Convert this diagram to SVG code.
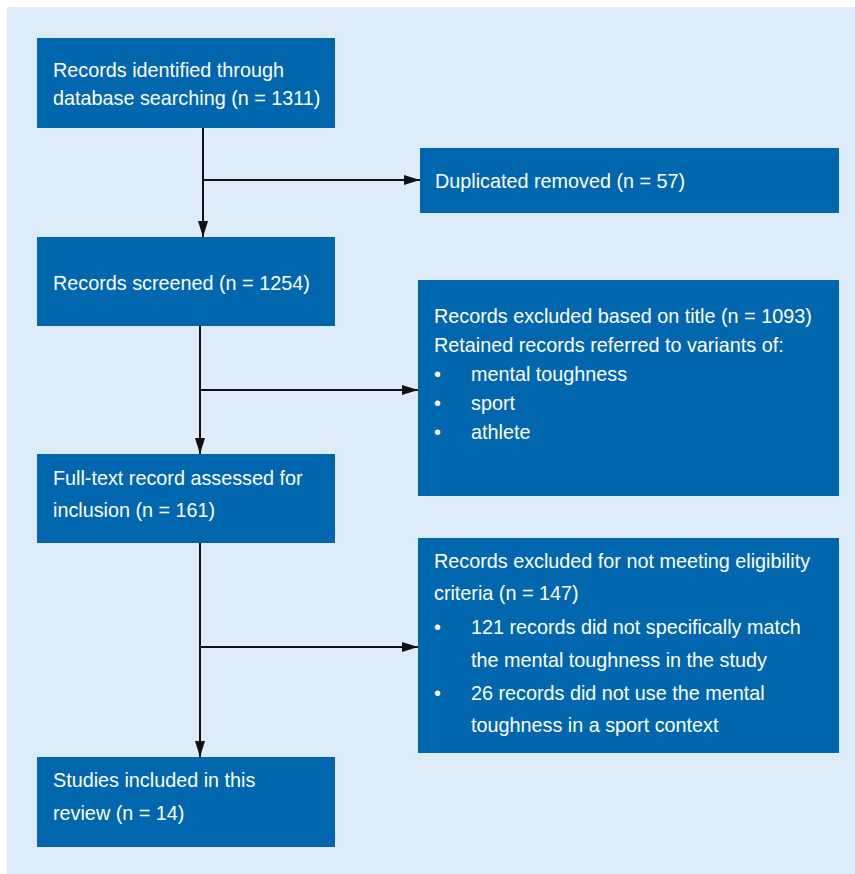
<svg xmlns="http://www.w3.org/2000/svg" width="855" height="874" viewBox="0 0 855 874">
<defs>
<marker id="arr" viewBox="0 0 16 10" refX="16" refY="5" markerWidth="16" markerHeight="10" markerUnits="userSpaceOnUse" orient="auto">
<path d="M0,0 L16,5 L0,10 Z" fill="#111"/>
</marker>
<style>
.box{fill:#0066ae}
.t{font-family:"Liberation Sans",Arial,sans-serif;font-size:19.8px;fill:#ffffff}
.c{stroke:#111;stroke-width:2;fill:none}
</style>
</defs>
<rect x="7" y="7" width="848" height="867" fill="#deebf8"/>
<g id="connectors">
<line class="c" x1="203" y1="128" x2="203" y2="237" marker-end="url(#arr)"/>
<line class="c" x1="203" y1="180" x2="420" y2="180" marker-end="url(#arr)"/>
<line class="c" x1="200" y1="326" x2="200" y2="454" marker-end="url(#arr)"/>
<line class="c" x1="200" y1="390" x2="418" y2="390" marker-end="url(#arr)"/>
<line class="c" x1="200" y1="543" x2="200" y2="757" marker-end="url(#arr)"/>
<line class="c" x1="200" y1="647" x2="418" y2="647" marker-end="url(#arr)"/>
</g>
<g id="n1"><rect class="box" x="37" y="38" width="298" height="90"/>
<text class="t" x="53" y="77">Records identified through</text>
<text class="t" x="53" y="105">database searching (n = 1311)</text></g>
<g id="n2"><rect class="box" x="420" y="148" width="419" height="65"/>
<text class="t" x="435" y="188">Duplicated removed (n = 57)</text></g>
<g id="n3"><rect class="box" x="37" y="237" width="298" height="89"/>
<text class="t" x="53" y="290">Records screened (n = 1254)</text></g>
<g id="n4"><rect class="box" x="418" y="280" width="421" height="216"/>
<text class="t" x="434" y="323">Records excluded based on title (n = 1093)</text>
<text class="t" x="434" y="352">Retained records referred to variants of:</text>
<text class="t" x="434" y="381">•</text><text class="t" x="471" y="381">mental toughness</text>
<text class="t" x="434" y="410">•</text><text class="t" x="471" y="410">sport</text>
<text class="t" x="434" y="439">•</text><text class="t" x="471" y="439">athlete</text></g>
<g id="n5"><rect class="box" x="37" y="454" width="298" height="89"/>
<text class="t" x="53" y="485">Full-text record assessed for</text>
<text class="t" x="53" y="517">inclusion (n = 161)</text></g>
<g id="n6"><rect class="box" x="418" y="538" width="421" height="215"/>
<text class="t" x="434" y="568">Records excluded for not meeting eligibility</text>
<text class="t" x="434" y="600">criteria (n = 147)</text>
<text class="t" x="434" y="634">•</text><text class="t" x="471" y="634">121 records did not specifically match</text>
<text class="t" x="471" y="667">the mental toughness in the study</text>
<text class="t" x="434" y="700">•</text><text class="t" x="471" y="700">26 records did not use the mental</text>
<text class="t" x="471" y="732">toughness in a sport context</text></g>
<g id="n7"><rect class="box" x="37" y="757" width="298" height="90"/>
<text class="t" x="53" y="787">Studies included in this</text>
<text class="t" x="53" y="820">review (n = 14)</text></g>
</svg>
